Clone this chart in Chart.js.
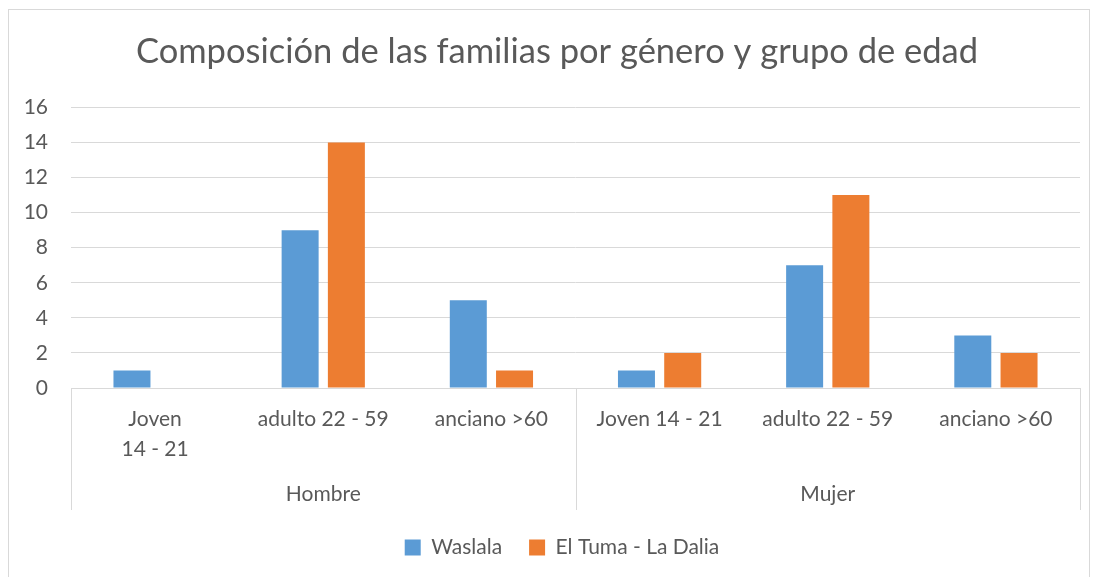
<!DOCTYPE html>
<html>
<head>
<meta charset="utf-8">
<script src="https://cdn.jsdelivr.net/npm/chart.js@4"></script>
<style>
  html, body { margin: 0; padding: 0; background: #fff; }
  #wrap { position: relative; width: 1096px; height: 577px; overflow: hidden; }
  #frame { position: absolute; left: 8px; top: 9px; width: 1082px; height: 580px; border: 1px solid #d9d9d9; box-sizing: border-box; }
  #myChart { position: absolute; left: 0; top: 0; }
</style>
</head>
<body>
<div id="wrap">
  <div id="frame"></div>
  <canvas id="myChart" width="1096" height="577"></canvas>
</div>
<script>
  // datos
  const categorias = [['Joven', '14 - 21'], 'adulto 22 - 59', 'anciano >60', 'Joven 14 - 21', 'adulto 22 - 59', 'anciano >60'];
  const grupos = ['Hombre', 'Mujer'];
  const waslala = [1, 9, 5, 1, 7, 3];
  const elTuma = [null, 14, 1, 2, 11, 2];
  const yTicks = [0, 2, 4, 6, 8, 10, 12, 14, 16];

  const fuente = 'Lato, "Open Sans", sans-serif';
  const gris = '#595959';

  // dibuja la segunda fila de etiquetas (Hombre / Mujer) y las lineas separadoras
  const gruposPlugin = {
    id: 'grupos',
    afterLayout(chart) {
      // centrar titulo y leyenda un poco mas a la derecha, como en el original
      chart.titleBlock.left = 34;
      chart.legend.left = 44;
    },
    afterDraw(chart) {
      const ctx = chart.ctx;
      const x = chart.scales.x;
      const top = chart.chartArea.bottom;
      const bottom = x.bottom;
      const per = categorias.length / grupos.length;
      ctx.save();
      ctx.strokeStyle = '#d9d9d9';
      ctx.lineWidth = 1;
      for (let g = 0; g <= grupos.length; g++) {
        let px;
        if (g === 0) px = x.left;
        else if (g === grupos.length) px = x.right;
        else px = (x.getPixelForValue(g * per - 1) + x.getPixelForValue(g * per)) / 2;
        px = Math.round(px) + 0.5;
        ctx.beginPath();
        ctx.moveTo(px, top);
        ctx.lineTo(px, bottom);
        ctx.stroke();
      }
      ctx.fillStyle = gris;
      ctx.font = '21px ' + fuente;
      ctx.textAlign = 'center';
      ctx.textBaseline = 'middle';
      grupos.forEach((name, g) => {
        const a = x.getPixelForValue(g * per);
        const b = x.getPixelForValue(g * per + per - 1);
        ctx.fillText(name, (a + b) / 2, bottom - 16);
      });
      ctx.restore();
    }
  };

  document.addEventListener('DOMContentLoaded', function () {
    const ctx = document.getElementById('myChart').getContext('2d');
    new Chart(ctx, {
      type: 'bar',
      data: {
        labels: categorias,
        datasets: [{
          label: 'Waslala',
          data: waslala,
          backgroundColor: '#5b9bd5',
          categoryPercentage: 0.55,
          barPercentage: 0.8
        }, {
          label: 'El Tuma - La Dalia',
          data: elTuma,
          backgroundColor: '#ed7d31',
          categoryPercentage: 0.55,
          barPercentage: 0.8
        }]
      },
      options: {
        responsive: false,
        animation: false,
        layout: { padding: { left: 2, right: 16, top: 20, bottom: 9 } },
        scales: {
          x: {
            grid: { display: false, drawTicks: false },
            border: { color: '#d9d9d9' },
            ticks: { color: gris, font: { size: 21, family: fuente, lineHeight: 1.4 }, maxRotation: 0, autoSkip: false, padding: 17 },
            afterFit(s) { s.height = 122; }
          },
          y: {
            min: 0,
            max: 16,
            afterBuildTicks(s) { s.ticks = yTicks.map(v => ({ value: v })); },
            grid: { color: '#d9d9d9', drawTicks: false },
            border: { display: false },
            ticks: { color: gris, font: { size: 21, family: fuente }, padding: 23 },
            afterFit(s) { s.width = 69; }
          }
        },
        plugins: {
          title: {
            display: true,
            text: 'Composición de las familias por género y grupo de edad',
            color: gris,
            font: { size: 34.5, family: fuente, weight: 'normal' },
            padding: { top: 11, bottom: 35 }
          },
          legend: {
            position: 'bottom',
            labels: { color: gris, font: { size: 21, family: fuente }, boxWidth: 16, boxHeight: 16, padding: 27 }
          },
          tooltip: { enabled: false }
        }
      },
      plugins: [gruposPlugin]
    });
  });
</script>
</body>
</html>
